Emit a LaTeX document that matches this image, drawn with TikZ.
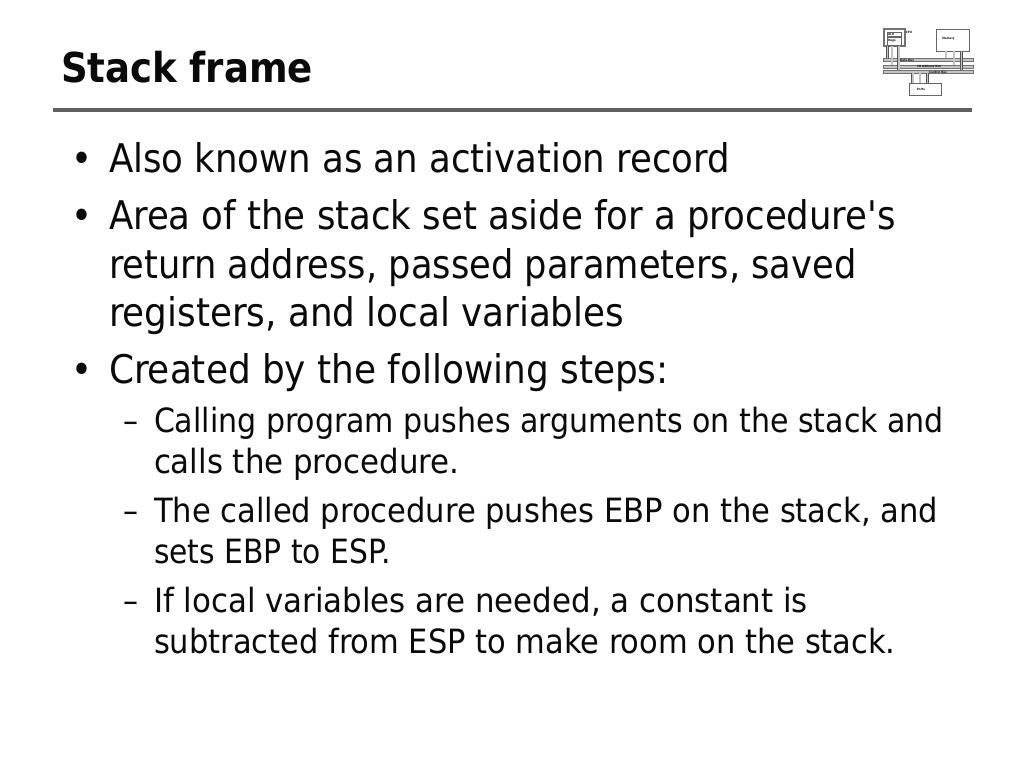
\documentclass[tikz,border=0pt]{standalone}
\usepackage{fontspec}
\usetikzlibrary{calc}
\setmainfont{DejaVu Sans Condensed}
\newfontfamily\titlefont{DejaVu Sans Condensed Bold}
\definecolor{rulegray}{HTML}{606060}
\definecolor{textblack}{HTML}{0A0A0A}
\definecolor{busgray}{HTML}{C4C4C4}
\definecolor{wiregray}{HTML}{555555}
\newcommand{\stretchline}[2]{\scalebox{#1}[1]{#2}}
\tikzset{
  x=1pt,y=-1pt,
  every node/.style={inner sep=0pt,outer sep=0pt,text=textblack},
  titletext/.style={anchor=base west,font=\titlefont\fontsize{41.2}{46}\selectfont},
  lone/.style={anchor=base west,font=\fontsize{39.5}{44}\selectfont},
  ltwo/.style={anchor=base west,font=\fontsize{33.4}{38}\selectfont},
  iconbox/.style={draw=black!60,line width=0.6pt,fill=white},
  iconcase/.style={draw=black!55,line width=1.2pt,fill=white},
  iconbus/.style={draw=black!55,line width=0.4pt,fill=busgray},
  iconwire/.style={draw=wiregray,line width=0.5pt,double=busgray,double distance=1.6pt},
  iconlabel/.style={font=\fontsize{3}{3}\selectfont\bfseries}
}
\begin{document}
\begin{tikzpicture}
\useasboundingbox (0,0) rectangle (1024,768);
\fill[white] (0,0) rectangle (1024,768);
\node[titletext] (title) at (61,82) {Stack frame};
\node[minimum width=919pt,minimum height=4pt,fill=rulegray,anchor=west] (rule) at (53,109.5) {};
% bullets
\node[lone] (b1) at (71,172) {•};
\node[lone] (t1) at (109,172) {Also known as an activation record};
\node[lone] (b2) at (71,229) {•};
\node[lone] (t2a) at (109,229) {Area of the stack set aside for a procedure\textquotesingle s};
\node[lone] (t2b) at (109,278) {\stretchline{.992}{return address, passed parameters, saved}};
\node[lone] (t2c) at (109,326) {\stretchline{1.006}{registers, and local variables}};
\node[lone] (b3) at (71,383) {•};
\node[lone] (t3) at (109,383) {\stretchline{1.009}{Created by the following steps:}};
\node[ltwo] (d1) at (123,432) {–};
\node[ltwo] (s1a) at (154,432) {Calling program pushes arguments on the stack and};
\node[ltwo] (s1b) at (154,473) {\stretchline{1.027}{calls the procedure.}};
\node[ltwo] (d2) at (123,522) {–};
\node[ltwo] (s2a) at (154,522) {\stretchline{1.017}{The called procedure pushes EBP on the stack, and}};
\node[ltwo] (s2b) at (154,563) {\stretchline{.992}{sets EBP to ESP.}};
\node[ltwo] (d3) at (123,612) {–};
\node[ltwo] (s3a) at (154,612) {\stretchline{1.027}{If local variables are needed, a constant is}};
\node[ltwo] (s3b) at (154,653) {\stretchline{1.015}{subtracted from ESP to make room on the stack.}};
% icon
\node[iconbus,minimum width=90pt,minimum height=3pt,anchor=north west] (data) at (883,58) {};
\node[iconbus,minimum width=90pt,minimum height=3pt,anchor=north west] (addr) at (883,65) {};
\node[iconbus,minimum width=90pt,minimum height=3pt,anchor=north west] (ctrl) at (883,70) {};
\node[iconcase,minimum width=21pt,minimum height=17pt,anchor=north west] (cpu) at (884,29) {};
\node[iconbox,minimum width=14pt,minimum height=4pt,anchor=north west] (alu) at (887,32) {};
\node[iconbox,minimum width=14pt,minimum height=8pt,anchor=north west] (regs) at (887,37) {};
\node[iconbox,minimum width=33pt,minimum height=22pt,anchor=north west] (mem) at (936,29) {};
\node[iconbox,minimum width=32pt,minimum height=12pt,anchor=north west] (ports) at (909,83) {};
% wires
\foreach \f/\t in {.157/data,.38/addr,.7/ctrl}{
  \coordinate (p) at ($(cpu.south west)!\f!(cpu.south east)$);
  \draw[iconwire] (p) -- (p |- \t.north);}
\foreach \f/\t in {.3/data,.545/addr,.767/ctrl}{
  \coordinate (p) at ($(mem.south west)!\f!(mem.south east)$);
  \draw[iconwire] (p) -- (p |- \t.north);}
\foreach \f/\t in {.116/ctrl,.344/ctrl,.572/ctrl}{
  \coordinate (p) at ($(ports.north west)!\f!(ports.north east)$);
  \draw[iconwire] (p) -- (p |- \t.south);}
\node[iconlabel] (alul) at (891,34) {ALU};
\node[iconlabel] (regl) at (892,41) {Regs};
\node[iconlabel] (cpul) at (909,32) {CPU};
\node[iconlabel] (meml) at (948.5,39) {Memory};
\node[iconlabel] (portl) at (921,89) {Ports};
\node[iconlabel] (datal) at (907,60) {Data Bus};
\node[iconlabel] (addrl) at (929,66.7) {I/O Address Bus};
\node[iconlabel] (ctrll) at (938,72.2) {Control Bus};
\end{tikzpicture}
\end{document}
